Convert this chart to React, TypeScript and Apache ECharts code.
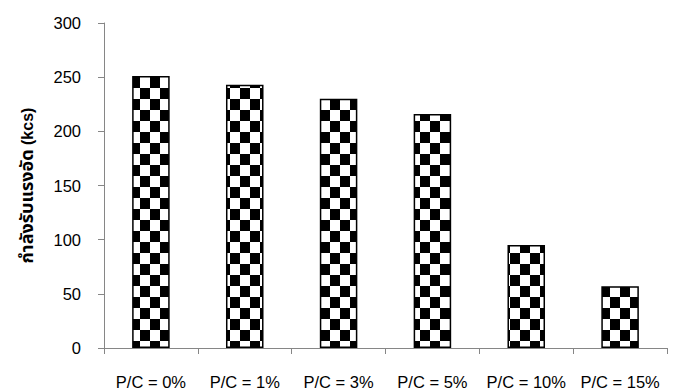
import React, { useEffect, useRef } from "react";
import * as echarts from "echarts";

// Compressive strength by P/C replacement ratio
const categories = ["P/C = 0%", "P/C = 1%", "P/C = 3%", "P/C = 5%", "P/C = 10%", "P/C = 15%"];
const strengthKcs = [251, 243, 230, 216, 95, 57];
const yTicks = { min: 0, max: 300, interval: 50 };
const yTitleThai = "กำลังรับแรงอัด";
const yTitleUnit = "(kcs)";

const FONT = "'Liberation Sans', Arial, 'Noto Sans', sans-serif";
const THAI_FONT = "'Noto Sans Thai', 'Liberation Sans', sans-serif";
const AXIS_GRAY = "#868686";

// Black/white checkerboard fill for the bars
function makeChecker(): HTMLCanvasElement {
  const cw = 10;
  const ch = 11;
  const c = document.createElement("canvas");
  c.width = cw * 2;
  c.height = ch * 2;
  const ctx = c.getContext("2d")!;
  ctx.fillStyle = "#ffffff";
  ctx.fillRect(0, 0, c.width, c.height);
  ctx.fillStyle = "#000000";
  ctx.fillRect(0, 0, cw, ch);
  ctx.fillRect(cw, ch, cw, ch);
  return c;
}

export default function App() {
  const ref = useRef<HTMLDivElement>(null);

  useEffect(() => {
    if (!ref.current) return;
    const chart = echarts.init(ref.current, null, { renderer: "svg" });
    chart.setOption({
      animation: false,
      backgroundColor: "#ffffff",
      grid: { left: 104, right: 9, top: 23, bottom: 42 },
      xAxis: {
        type: "category",
        data: categories,
        boundaryGap: true,
        axisLine: { show: true, lineStyle: { color: AXIS_GRAY, width: 1 } },
        axisTick: { show: true, length: 6, interval: 0, alignWithLabel: false, lineStyle: { color: AXIS_GRAY } },
        axisLabel: { interval: 0, margin: 25, color: "#000", fontSize: 16.5, fontFamily: FONT },
        splitLine: { show: false },
      },
      yAxis: {
        type: "value",
        min: yTicks.min,
        max: yTicks.max,
        interval: yTicks.interval,
        name: `{th|${yTitleThai}} {en|${yTitleUnit}}`,
        nameLocation: "middle",
        nameRotate: 90,
        nameGap: 65,
        nameTextStyle: {
          color: "#000",
          fontSize: 16,
          fontWeight: "bold",
          fontFamily: FONT,
          rich: {
            th: { fontSize: 18, fontWeight: "bold", fontFamily: THAI_FONT, lineHeight: 24, color: "#000" },
            en: { fontSize: 16, fontWeight: "bold", fontFamily: FONT, lineHeight: 24, color: "#000" },
          },
        },
        axisLine: { show: true, lineStyle: { color: AXIS_GRAY, width: 1 } },
        axisTick: { show: true, length: 6, lineStyle: { color: AXIS_GRAY } },
        axisLabel: { margin: 23, color: "#000", fontSize: 16.5, fontFamily: FONT },
        splitLine: { show: false },
      },
      series: [
        {
          type: "bar",
          data: strengthKcs,
          barWidth: "40%",
          itemStyle: {
            color: { image: makeChecker(), repeat: "repeat" } as any,
            borderColor: "#000",
            borderWidth: 1.5,
          },
        },
      ],
    });
    return () => chart.dispose();
  }, []);

  return (
    <div
      ref={ref}
      style={{ position: "fixed", left: 0, top: 0, width: 676, height: 390, background: "#fff" }}
    />
  );
}
